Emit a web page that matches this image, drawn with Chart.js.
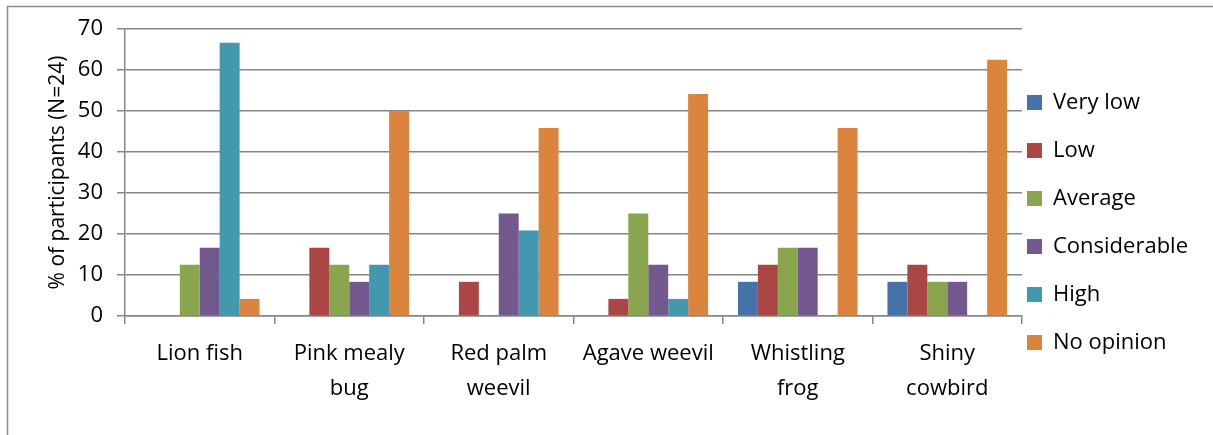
<!DOCTYPE html>
<html>
<head>
<meta charset="utf-8">
<script src="https://cdn.jsdelivr.net/npm/chart.js@4/dist/chart.umd.min.js"></script>
<style>
  html, body { margin: 0; padding: 0; background: #fff; }
  #wrap { width: 1213px; height: 435px; position: relative; }
</style>
</head>
<body>
<div id="wrap"><canvas id="impactChart" width="1213" height="435"></canvas></div>
<script>
// Especies invasoras - percepción de impacto (N=24)
const categorias = [
    ['Lion fish'],
    ['Pink mealy', 'bug'],
    ['Red palm', 'weevil'],
    ['Agave weevil'],
    ['Whistling', 'frog'],
    ['Shiny', 'cowbird']
];

const veryLow      = [0,     0,     0,     0,     8.33,  8.33];
const low          = [0,     16.67, 8.33,  4.17,  12.5,  12.5];
const average      = [12.5,  12.5,  0,     25,    16.67, 8.33];
const considerable = [16.67, 8.33,  25,    12.5,  16.67, 8.33];
const high         = [66.67, 12.5,  20.83, 4.17,  0,     0];
const noOpinion    = [4.17,  50,    45.83, 54.17, 45.83, 62.5];

const yTicks = [0, 10, 20, 30, 40, 50, 60, 70];

const fuente = "'Open Sans', sans-serif";
const gris = '#868686';

// marco exterior del gráfico (estilo Excel)
const marco = {
    id: 'marco',
    beforeDraw(chart) {
        const c = chart.ctx;
        c.save();
        c.strokeStyle = '#8c8c8c';
        c.lineWidth = 1.5;
        c.beginPath();
        c.moveTo(7.5, 500);
        c.lineTo(7.5, 6.5);
        c.lineTo(1300, 6.5);
        c.stroke();
        c.restore();
    }
};

// acercar la leyenda al área del gráfico y bajarla un poco
const ajusteLeyenda = {
    id: 'ajusteLeyenda',
    afterLayout(chart) {
        const lg = chart.legend;
        lg.left -= 21;
        lg.right -= 21;
        lg.top += 6;
        lg.bottom += 6;
    }
};

function serie(label, data, color) {
    return {
        label: label,
        data: data,
        backgroundColor: color,
        borderWidth: 0,
        categoryPercentage: 0.8,
        barPercentage: 1.0
    };
}

const ctx = document.getElementById('impactChart').getContext('2d');
const chart = new Chart(ctx, {
    type: 'bar',
    data: {
        labels: categorias,
        datasets: [
            serie('Very low', veryLow, '#4672AA'),
            serie('Low', low, '#AA4643'),
            serie('Average', average, '#89A54E'),
            serie('Considerable', considerable, '#74598F'),
            serie('High', high, '#4198AF'),
            serie('No opinion', noOpinion, '#DB843D')
        ]
    },
    options: {
        responsive: false,
        animation: false,
        layout: {
            padding: { top: 29, left: 45, right: 0, bottom: 31 }
        },
        plugins: {
            tooltip: { enabled: false },
            legend: {
                display: true,
                position: 'right',
                align: 'center',
                maxWidth: 191,
                labels: {
                    color: '#000',
                    boxWidth: 15,
                    boxHeight: 15,
                    padding: 26,
                    font: { family: fuente, size: 22 }
                }
            }
        },
        scales: {
            y: {
                min: 0,
                max: 70,
                afterBuildTicks(axis) {
                    axis.ticks = yTicks.map(v => ({ value: v }));
                },
                afterFit(axis) {
                    axis.width = 80;
                },
                ticks: {
                    color: '#000',
                    padding: 14,
                    font: { family: fuente, size: 22 }
                },
                title: {
                    display: true,
                    text: '% of participants (N=24)',
                    color: '#000',
                    padding: { top: 0, bottom: 10 },
                    font: { family: fuente, size: 21 }
                },
                grid: {
                    color: gris,
                    lineWidth: 1.5,
                    tickLength: 8,
                    tickColor: gris
                },
                border: { color: gris, width: 1.5 }
            },
            x: {
                afterFit(axis) {
                    axis.height = 88;
                },
                ticks: {
                    color: '#000',
                    padding: 12,
                    maxRotation: 0,
                    font: { family: fuente, size: 22, lineHeight: 1.6 }
                },
                grid: {
                    offset: true,
                    drawOnChartArea: false,
                    tickLength: 8,
                    color: gris,
                    lineWidth: 1.5
                },
                border: { color: gris, width: 1.5 }
            }
        }
    },
    plugins: [marco, ajusteLeyenda]
});
</script>
</body>
</html>
